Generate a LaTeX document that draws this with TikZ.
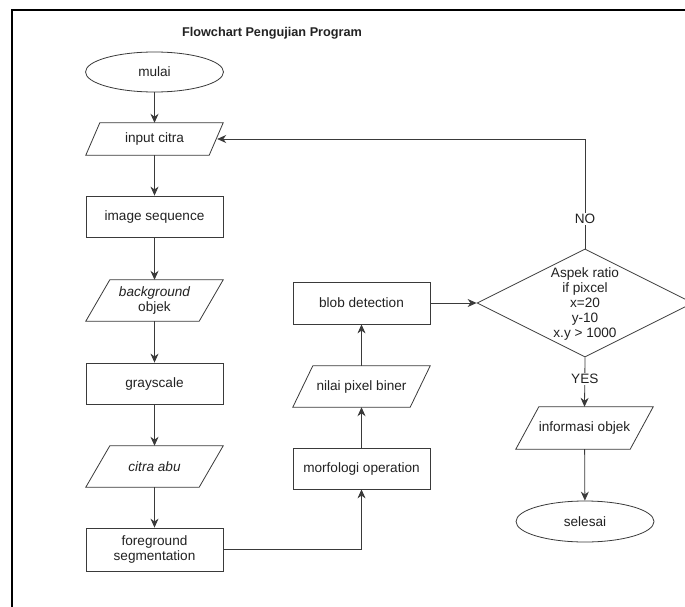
\documentclass[tikz,border=0pt]{standalone}
\usepackage{fontspec}
\setmainfont{Liberation Sans}
\usetikzlibrary{shapes.geometric,arrows.meta,calc}
\definecolor{ln}{HTML}{3A3A3A}
\definecolor{tx}{HTML}{222222}
\begin{document}
\begin{tikzpicture}[x=1pt,y=-1pt,
  every node/.style={font=\fontsize{13.6}{15}\selectfont, text=tx, align=center, inner sep=0pt},
  box/.style={draw=ln, line width=0.8pt, rectangle, minimum width=137pt, minimum height=41pt},
  term/.style={draw=ln, line width=0.8pt, ellipse, minimum width=138pt, minimum height=41pt},
  io/.style={rectangle, minimum width=137pt, minimum height=41pt,
    append after command={\pgfextra{\draw[draw=ln, line width=0.8pt, line join=miter]
      (\tikzlastnode.south west) -- ($(\tikzlastnode.south east)+(-#1,0)$)
      -- (\tikzlastnode.north east) -- ($(\tikzlastnode.north west)+(#1,0)$) -- cycle;}}},
  dec/.style={draw=ln, line width=0.8pt, diamond, minimum width=216pt, minimum height=108pt},
  arr/.style={draw=ln, line width=0.8pt, -{Stealth[length=9pt,width=8pt]}},
  lnk/.style={draw=ln, line width=0.8pt},
  lbl/.style={fill=white, inner sep=1.5pt}
]
\useasboundingbox (0,0) rectangle (685,607);
\fill[white] (0,0) rectangle (685,607);
\draw[line width=1.6pt, black] (12,620) -- (12,10) -- (700,10);

\node (title) at (272,33) {\fontsize{12.7}{14}\selectfont\bfseries Flowchart Pengujian Program};

\node[term, minimum height=40pt] (mulai) at (154.5,72) {mulai};
\node[io=14, minimum height=32pt] (input) at (154.5,139) {input citra};
\node[box] (imgseq) at (154.5,216.5) {image sequence};
\node[io=24] (bg) at (154.5,300.5) {\itshape background\\objek};
\node[box] (gray) at (154.5,383.5) {grayscale};
\node[io=24] (abu) at (154.5,466.5) {\itshape citra abu};
\node[box, minimum height=43pt] (fg) at (154.5,549.5) {foreground\\segmentation};

\node[box] (morf) at (361.5,468.5) {morfologi operation};
\node[io=20] (nilai) at (361.5,386.5) {nilai pixel biner};
\node[box, minimum height=42pt] (blob) at (361.5,303) {blob detection};

\node[dec] (dec) at (585,303) {};
\node (dectext) at (585,303.5) {Aspek ratio\\if pixcel\\x=20\\y-10\\x.y {>} 1000};

\node[io=23, minimum height=42pt] (info) at (584.5,428) {informasi objek};
\node[term] (sel) at (585,521.5) {selesai};

\coordinate (noturn) at (585,139);

\draw[arr] (mulai) -- (input);
\draw[arr] (input) -- (imgseq);
\draw[arr] (imgseq) -- (bg);
\draw[arr] (bg) -- (gray);
\draw[arr] (gray) -- (abu);
\draw[arr] (abu) -- (fg);
\draw[arr] (fg.east) -| (morf.south);
\draw[arr] (morf) -- (nilai);
\draw[arr] (nilai) -- (blob);
\draw[arr] (blob.east) -- (dec.west);
\draw[lnk] (dec.north) -- node[lbl, pos=0.27] {NO} (noturn);
\draw[arr] (noturn) -- ([xshift=-6pt]input.east);
\draw[arr] (dec.south) -- node[lbl, pos=0.44] {YES} (info.north);
\draw[arr] (info) -- (sel);
\end{tikzpicture}
\end{document}
